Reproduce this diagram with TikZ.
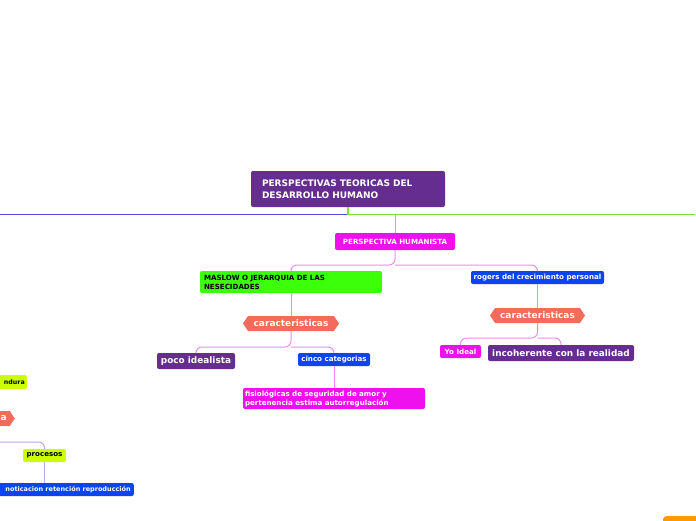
\documentclass[tikz,border=0pt]{standalone}
\usepackage{fontspec}
\setmainfont{DejaVu Sans}
\usetikzlibrary{shapes.symbols}
\definecolor{rootpurple}{HTML}{662D91}
\definecolor{mag}{HTML}{EE11EE}
\definecolor{lgreen}{HTML}{3CFF0A}
\definecolor{mblue}{HTML}{0A45F0}
\definecolor{salmon}{HTML}{F26B5B}
\definecolor{ygreen}{HTML}{CCFF00}
\definecolor{orng}{HTML}{FF9900}
\definecolor{linblue}{HTML}{5548EE}
\definecolor{lingreen}{HTML}{7EE030}
\definecolor{linpink}{HTML}{F08CF0}
\definecolor{linviolet}{HTML}{BBA6F0}
\tikzset{
  box/.style={rounded corners=2pt, inner sep=0pt, align=center, font=\bfseries\fontsize{7.1}{9}\selectfont},
  bigbox/.style={box, font=\bfseries\fontsize{8.9}{10.5}\selectfont},
  hexa/.style={signal, signal to=west and east, signal pointer angle=112, fill=salmon, inner sep=0pt, text=white, font=\bfseries\fontsize{9}{10.5}\selectfont, minimum height=15pt},
  conn/.style={line width=1pt, rounded corners=6pt, draw=linpink},
}
\begin{document}
\begin{tikzpicture}[x=1pt,y=-1pt]
\clip (0,0) rectangle (696,520);
\fill[white] (0,0) rectangle (696,520);
% nodes
\node[box, fill=rootpurple, text=white, minimum width=194pt, minimum height=36pt, text width=172pt, align=left, font=\bfseries\fontsize{9}{11.5}\selectfont] (root) at (348,189) {PERSPECTIVAS TEORICAS DEL\\DESARROLLO HUMANO};
\node[box, fill=mag, text=white, minimum width=120pt, minimum height=17pt] (ph) at (395,241.5) {PERSPECTIVA HUMANISTA};
\node[box, fill=lgreen, text=black, minimum width=182pt, minimum height=22pt, text width=174pt, align=left] (maslow) at (291,282) {MASLOW O JERARQUIA DE LAS\\NESECIDADES};
\node[box, fill=mblue, text=white, minimum width=133pt, minimum height=13pt] (rogers) at (537.5,277.5) {rogers del crecimiento personal};
\node[hexa, minimum width=96pt] (car1) at (291,323.5) {caracteristicas};
\node[hexa, minimum width=95pt] (car2) at (537.5,315.5) {caracteristicas};
\node[bigbox, fill=rootpurple, text=white, minimum width=78pt, minimum height=16pt] (poco) at (196,361) {poco idealista};
\node[box, fill=mblue, text=white, minimum width=72pt, minimum height=13pt] (cinco) at (334,359.5) {cinco categorias};
\node[box, fill=mag, text=white, minimum width=182pt, minimum height=21pt, text width=178pt, align=left] (fisio) at (334,398.5) {fisiológicas de seguridad de amor y\\pertenencia estima autorregulación};
\node[box, fill=mag, text=white, minimum width=41pt, minimum height=13pt] (yo) at (460.5,351.5) {Yo Ideal};
\node[bigbox, fill=rootpurple, text=white, minimum width=146pt, minimum height=16pt] (incoh) at (561,353) {incoherente con la realidad};
% left, cut by the page edge
\node[box, fill=ygreen, text=black, minimum height=14pt, anchor=east, inner xsep=2pt, text width=36pt, align=right, font=\bfseries\fontsize{6.3}{8}\selectfont] (ndura) at (27,382) {ndura};
\node[hexa, minimum width=40pt, anchor=east, text width=24pt, align=right] (hexl) at (15,418.5) {a};
\node[box, fill=ygreen, text=black, minimum width=43pt, minimum height=13pt] (proc) at (44.5,455.5) {procesos};
\node[box, fill=mblue, text=white, minimum height=13pt, anchor=east, inner xsep=3pt, text width=144pt, align=right, font=\bfseries\fontsize{6.5}{8}\selectfont] (prodn) at (134,489.5) {noticacion retención reproducción};
\node[fill=orng, rounded corners=3pt, minimum width=40pt, minimum height=10pt, inner sep=0pt, anchor=north west] (orange) at (663,516) {};
% connectors
\coordinate (lend) at (0,214.5);
\coordinate (rend) at (695,214.5);
\coordinate (jn) at (348,214.5);
\draw[line width=1.5pt, draw=linblue] (lend) -- (jn);
\draw[line width=1.5pt, draw=lingreen] (jn) -- (rend);
\draw[line width=1.5pt, draw=lingreen] (root.south) -- (jn);
\draw[conn] (395,214.5) -- (ph.north);
\draw[conn] (ph.south) -- (395,265) -| (maslow.north);
\draw[conn] (395,265) -| (rogers.north);
\draw[conn] (maslow.south) -- (car1.north);
\draw[conn] (car1.south) -- (291,347) -| (poco.north);
\draw[conn] (291,347) -| (cinco.north);
\draw[conn] (cinco.south) -- (fisio.north);
\draw[conn] (rogers.south) -- (car2.north);
\draw[conn] (car2.south) -- (537.5,338) -| (yo.north);
\draw[conn] (537.5,338) -| (incoh.north);
\coordinate (lproc) at (-5,442);
\draw[conn, draw=linviolet] (lproc) -| (proc.north);
\draw[conn, draw=linviolet] (proc.south) -- (44.5,483);
\end{tikzpicture}
\end{document}
